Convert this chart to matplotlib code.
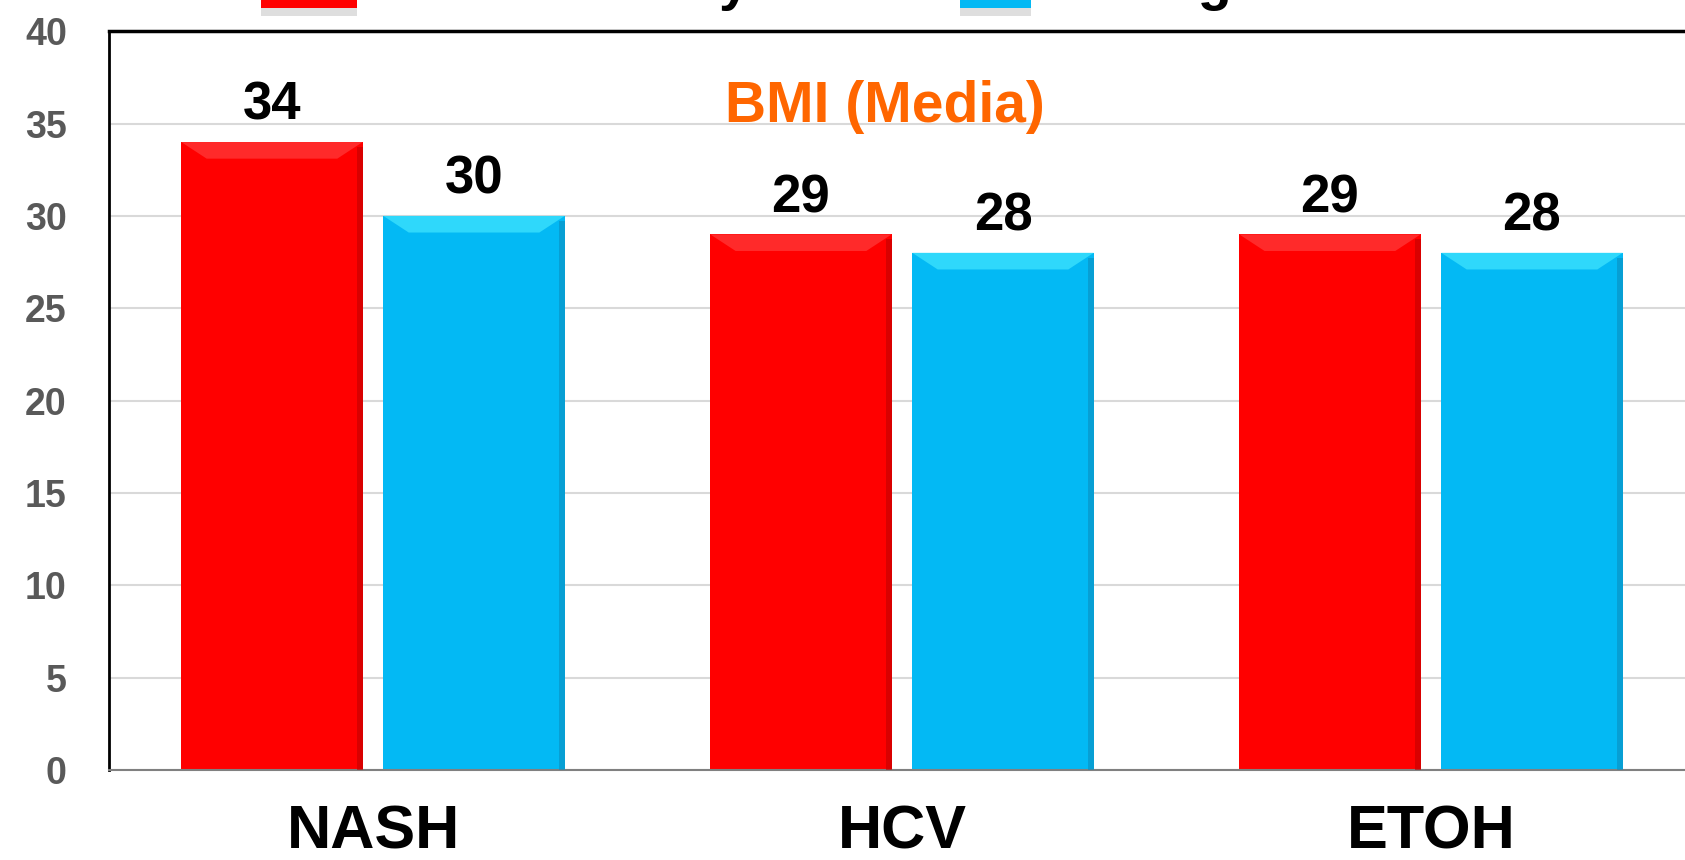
import matplotlib.pyplot as plt
from matplotlib.patches import Rectangle, Polygon
import numpy as np

plt.rcParams['font.family'] = ['Liberation Sans', 'DejaVu Sans']
plt.rcParams['font.weight'] = 'bold'

categories = ['NASH', 'HCV', 'ETOH']
series_names = ['Elderly', 'Young']
bmi_elderly = [34, 29, 29]
bmi_young = [30, 28, 28]
yticks = [0, 5, 10, 15, 20, 25, 30, 35, 40]

red = '#ff0000'
blue = '#03b9f4'


def bevel(ax, bars, light, dark):
    # fake 3D look: light top band and darker right edge on each bar
    for b in bars:
        x0, w, h = b.get_x(), b.get_width(), b.get_height()
        dx = w * 0.14
        dy = 0.9
        ax.add_patch(Polygon([(x0, h), (x0 + w, h), (x0 + w - dx, h - dy), (x0 + dx, h - dy)],
                             closed=True, facecolor=light, edgecolor='none', zorder=3))
        ax.add_patch(Rectangle((x0 + w - w * 0.03, 0), w * 0.03, h - dy * 0.3,
                               facecolor=dark, edgecolor='none', zorder=3, alpha=0.6))


fig = plt.figure(figsize=(16.85, 8.6), dpi=100)
ax = fig.add_axes([0.0644, 0.1047, 0.9418, 0.859])

x = np.arange(len(categories))
w = 0.343
off = 0.191
b1 = ax.bar(x - off, bmi_elderly, w, color=red, zorder=2)
b2 = ax.bar(x + off, bmi_young, w, color=blue, zorder=2)
bevel(ax, b1, '#ff2a2a', '#c00000')
bevel(ax, b2, '#2fd8fb', '#0a8fc0')

for bars, vals in ((b1, bmi_elderly), (b2, bmi_young)):
    for b, v in zip(bars, vals):
        ax.text(b.get_x() + b.get_width() / 2, v + 1.2, f'{v}', ha='center', va='baseline',
                fontsize=38, fontweight='bold', color='black')

ax.set_xlim(-0.5, 2.5)
ax.set_ylim(0, 40)
ax.set_yticks(yticks)
ax.set_yticklabels([str(t) for t in yticks], fontsize=27, fontweight='bold', color='#595959')
ax.set_xticks(x)
ax.set_xticklabels(categories, fontsize=44, fontweight='bold', color='black')
ax.tick_params(axis='y', length=0, pad=30)
ax.tick_params(axis='x', length=0, pad=25)
ax.grid(True, axis='y', color='#d9d9d9', linewidth=1.5, zorder=0)
ax.set_axisbelow(True)

ax.spines['left'].set_linewidth(2)
ax.spines['left'].set_color('black')
ax.spines['top'].set_linewidth(2.5)
ax.spines['top'].set_color('black')
ax.spines['bottom'].set_linewidth(1.5)
ax.spines['bottom'].set_color('#808080')
ax.spines['right'].set_visible(False)

fig.text(0.525, 0.8585, 'BMI (Media)', ha='center', va='baseline',
         fontsize=41, fontweight='bold', color='#ff6600')

# legend row, mostly above the top edge of the canvas
for (x0, x1), col in (((261, 357), red), ((960, 1031), blue)):
    fig.patches.append(Rectangle((x0 / 1685, (860 - 16) / 860), (x1 - x0) / 1685, 30 / 860,
                                 transform=fig.transFigure, facecolor='#c8c8c8',
                                 edgecolor='none', alpha=0.6))
    fig.patches.append(Rectangle((x0 / 1685, (860 - 8) / 860), (x1 - x0) / 1685, 40 / 860,
                                 transform=fig.transFigure, facecolor=col, edgecolor='none'))
fig.text(750 / 1685, 1.0015, series_names[0], ha='right', va='baseline',
         fontsize=40, fontweight='bold', color='black')
fig.text(1063 / 1685, 1.0015, series_names[1], ha='left', va='baseline',
         fontsize=40, fontweight='bold', color='black')

fig.savefig('out.png', dpi=100)
